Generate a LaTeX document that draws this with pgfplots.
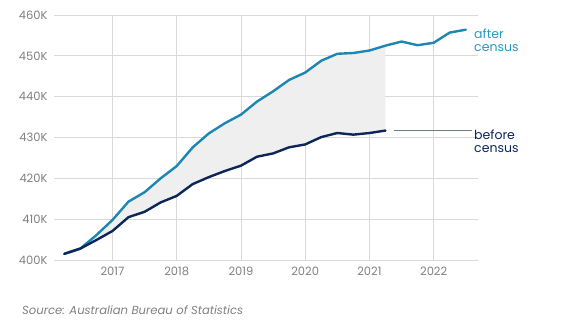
\documentclass[border=0pt]{standalone}
\usepackage{fontspec}
\setmainfont{Poppins}
\usepackage{pgfplots}
\pgfplotsset{compat=1.18}
\definecolor{aftercol}{HTML}{1E86B3}
\definecolor{aftertxt}{HTML}{2A98C2}
\definecolor{beforecol}{HTML}{0C2659}
\definecolor{gridcol}{HTML}{D9D9D9}
\definecolor{labcol}{HTML}{808080}
\definecolor{fillcol}{HTML}{EFEFEF}
\definecolor{conncol}{HTML}{6E7C8C}
\pgfplotstableread{
x y
2016.25 401.5
2016.5 402.8
2016.75 404.9
2017.0 407.1
2017.25 410.5
2017.5 411.8
2017.75 414.1
2018.0 415.7
2018.25 418.6
2018.5 420.3
2018.75 421.8
2019.0 423.1
2019.25 425.3
2019.5 426.1
2019.75 427.6
2020.0 428.3
2020.25 430.1
2020.5 431.1
2020.75 430.7
2021.0 431.1
2021.25 431.7
}\tbefore
\pgfplotstableread{
x y
2016.25 401.5
2016.5 402.8
2016.75 406.1
2017.0 409.8
2017.25 414.3
2017.5 416.6
2017.75 420.0
2018.0 423.0
2018.25 427.6
2018.5 431.0
2018.75 433.5
2019.0 435.6
2019.25 438.8
2019.5 441.3
2019.75 444.1
2020.0 445.9
2020.25 448.8
2020.5 450.5
2020.75 450.7
2021.0 451.3
2021.25 452.5
2021.5 453.5
2021.75 452.6
2022.0 453.2
2022.25 455.7
2022.5 456.4
}\tafter
% gap area: after-census path forward, before-census path back
\pgfplotstableread{
x y
2016.25 401.5
2016.5 402.8
2016.75 406.1
2017.0 409.8
2017.25 414.3
2017.5 416.6
2017.75 420.0
2018.0 423.0
2018.25 427.6
2018.5 431.0
2018.75 433.5
2019.0 435.6
2019.25 438.8
2019.5 441.3
2019.75 444.1
2020.0 445.9
2020.25 448.8
2020.5 450.5
2020.75 450.7
2021.0 451.3
2021.25 452.5
2021.25 431.7
2021.0 431.1
2020.75 430.7
2020.5 431.1
2020.25 430.1
2020.0 428.3
2019.75 427.6
2019.5 426.1
2019.25 425.3
2019.0 423.1
2018.75 421.8
2018.5 420.3
2018.25 418.6
2018.0 415.7
2017.75 414.1
2017.5 411.8
2017.25 410.5
2017.0 407.1
2016.75 404.9
2016.5 402.8
2016.25 401.5
}\tgap
\begin{document}
\begin{tikzpicture}
\path[use as bounding box] (0pt,0pt) rectangle (562pt,325pt);
\begin{axis}[at={(54pt,65pt)}, anchor=south west, scale only axis,
  width=424pt, height=245pt,
  xmin=2016.09, xmax=2022.69, ymin=400, ymax=460,
  axis line style={draw=none}, major tick length=0pt,
  xtick={2017,2018,2019,2020,2021,2022},
  xticklabels={2017,2018,2019,2020,2021,2022},
  ytick={400,410,420,430,440,450,460},
  yticklabels={400K,410K,420K,430K,440K,450K,460K},
  grid=major, grid style={gridcol, line width=0.7pt},
  ticklabel style={font=\fontsize{11.5}{13}\selectfont, text=labcol},
  yticklabel style={xshift=-3pt},
  xticklabel style={yshift=-3pt},
  clip=false]
\addplot[fill=fillcol, draw=none] table {\tgap} -- cycle;
\addplot[aftercol, line width=2.4pt, line join=round, line cap=round] table {\tafter};
\addplot[beforecol, line width=2.4pt, line join=round, line cap=round] table {\tbefore};
\addplot[conncol, line width=1pt] coordinates {(2021.38,431.7) (2022.6,431.7)};
\end{axis}
\node[anchor=north west, align=left, text=aftertxt, font=\fontsize{12.5}{12.5}\selectfont, inner sep=0pt] at (474pt,296pt) {after\\census};
\node[anchor=north west, align=left, text=beforecol, font=\fontsize{12.5}{12.5}\selectfont, inner sep=0pt] at (474pt,195pt) {before\\census};
\node[anchor=west, text=labcol, font=\fontsize{11.6}{13}\selectfont\itshape, inner sep=0pt] at (22pt,15pt) {Source: Australian Bureau of Statistics};
\end{tikzpicture}
\end{document}
